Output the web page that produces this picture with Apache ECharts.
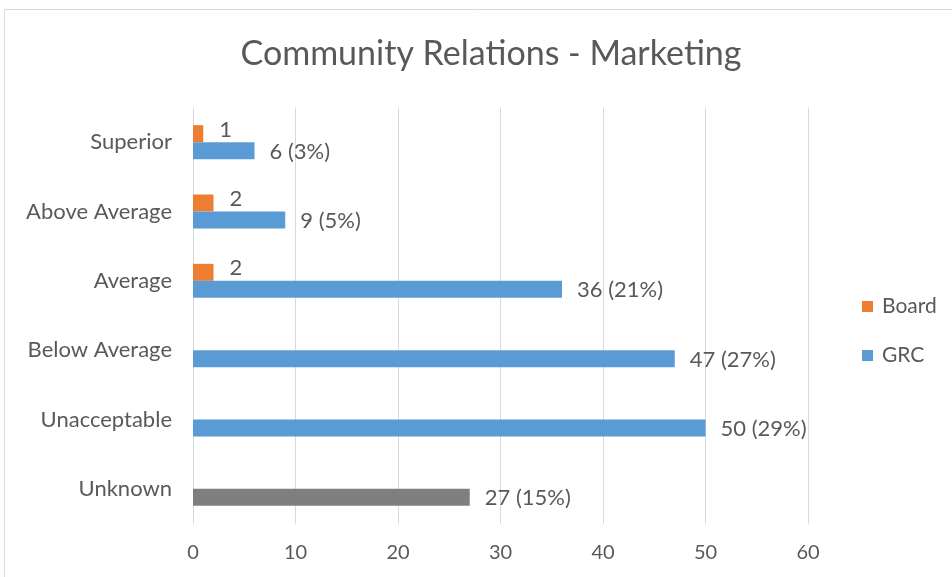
<!DOCTYPE html>
<html>
<head>
<meta charset="utf-8">
<script src="https://cdn.jsdelivr.net/npm/echarts@6/dist/echarts.min.js"></script>
<style>
  html, body { margin: 0; padding: 0; background: #fff; }
  #chart { width: 952px; height: 577px; }
</style>
</head>
<body>
<div id="chart"></div>
<script>
// Rating categories, top to bottom
const categories = ['Superior', 'Above Average', 'Average', 'Below Average', 'Unacceptable', 'Unknown'];
// Responses per rating
const boardValues = [1, 2, 2, null, null, null];
const grcValues = [6, 9, 36, 47, 50, 27];
// x-axis range
const xTicks = { min: 0, max: 60, interval: 10 };

const COLORS = { board: '#ED7D31', grc: '#5B9BD5', unknown: '#7F7F7F', text: '#595959', grid: '#D9D9D9' };
const FONT = 'Lato';

const grcTotal = grcValues.reduce((a, b) => a + b, 0);
const grcData = grcValues.map((v, i) => ({
  value: v,
  itemStyle: categories[i] === 'Unknown' ? { color: COLORS.unknown } : undefined
}));

const chart = echarts.init(document.getElementById('chart'), null, { renderer: 'canvas' });
chart.setOption({
  animation: false,
  backgroundColor: '#fff',
  textStyle: { fontFamily: FONT, color: COLORS.text },
  title: {
    text: 'Community Relations - Marketing',
    left: 486, top: 32, textAlign: 'center',
    textStyle: { fontFamily: FONT, fontSize: 34, fontWeight: 'normal', color: COLORS.text }
  },
  graphic: [{
    type: 'rect', silent: true, z: -1,
    shape: { x: 4.5, y: 9.5, width: 1000, height: 600 },
    style: { fill: 'none', stroke: '#D9D9D9', lineWidth: 1 }
  }],
  legend: {
    orient: 'vertical', left: 857, top: 291, itemGap: 28,
    itemWidth: 11, itemHeight: 11, icon: 'rect',
    textStyle: { fontFamily: FONT, fontSize: 21, color: COLORS.text, padding: [0, 0, 0, 4] },
    data: ['Board', 'GRC']
  },
  grid: { left: 193, right: 144, top: 107.5, bottom: 53.5, containLabel: false },
  xAxis: {
    type: 'value', min: xTicks.min, max: xTicks.max, interval: xTicks.interval,
    axisLine: { show: false }, axisTick: { show: false },
    splitLine: { lineStyle: { color: COLORS.grid, width: 1 } },
    axisLabel: { fontFamily: FONT, fontSize: 20, color: COLORS.text, margin: 19 }
  },
  yAxis: {
    type: 'category', inverse: true, data: categories,
    axisLine: { show: false }, axisTick: { show: false },
    axisLabel: { fontFamily: FONT, fontSize: 22, color: COLORS.text, margin: 21 }
  },
  series: [
    {
      name: 'Board', type: 'bar', data: boardValues, barWidth: 17, barGap: '0%',
      itemStyle: { color: COLORS.board },
      label: { show: true, position: 'right', distance: 16, offset: [0, -4],
        fontFamily: FONT, fontSize: 22, color: COLORS.text }
    },
    {
      name: 'GRC', type: 'bar', data: grcData, barWidth: 17,
      itemStyle: { color: COLORS.grc },
      label: {
        show: true, position: 'right', distance: 15, offset: [0, 1],
        fontFamily: FONT, fontSize: 22, color: COLORS.text,
        formatter: p => p.value + ' (' + Math.round(p.value / grcTotal * 100) + '%)'
      }
    }
  ]
});
</script>
</body>
</html>
